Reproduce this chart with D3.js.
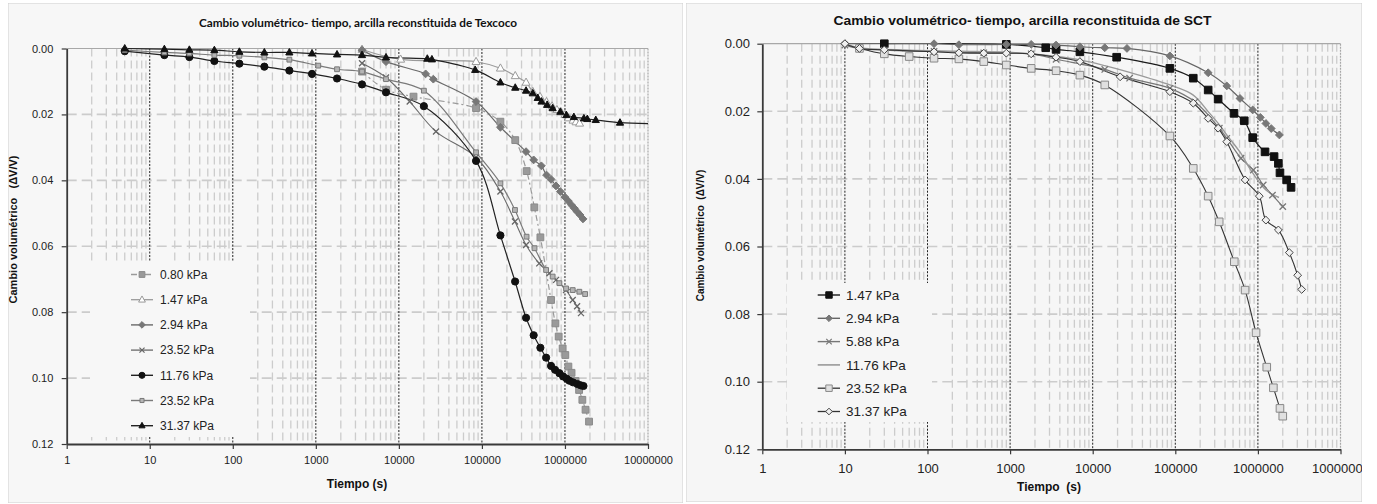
<!DOCTYPE html>
<html><head><meta charset="utf-8">
<script src="https://cdn.jsdelivr.net/npm/d3@7/dist/d3.min.js"></script>
<style>html,body{margin:0;padding:0;background:#fff}svg{display:block}</style>
</head><body>
<svg id="c" width="1377" height="504"></svg>
<script>
// ---------------- DATA ----------------
const yTicks = [0, 0.02, 0.04, 0.06, 0.08, 0.10, 0.12];
const decades = [1, 10, 100, 1000, 10000, 100000, 1000000, 10000000];
const texXLabels = ["1","10","100","1000","10000","100000","1000000","10000000"];
const sctXLabels = ["1","10","100","1000","10000","100000","1000000","10000000"];

const texTitle = "Cambio volumétrico- tiempo,  arcilla reconstituida de Texcoco";
const sctTitle = "Cambio volumétrico- tiempo,  arcilla reconstituida de SCT";
const texYTitle = "Cambio volumétrico   (ΔV/V)";
const sctYTitle = "Cambio volumétrico  (ΔV/V)";
const texXTitle = "Tiempo (s)";
const sctXTitle = "Tiempo  (s)";

const texNames = ["0.80 kPa","1.47 kPa","2.94 kPa","23.52 kPa","11.76 kPa","23.52 kPa","31.37 kPa"];
const sctNames = ["1.47 kPa","2.94 kPa","5.88 kPa","11.76 kPa","23.52 kPa","31.37 kPa"];

// Texcoco series: [tiempo (s), ΔV/V]
const tex080 = [[3600,0.0070],[7000,0.0125],[15000,0.0146],[85000,0.0181],[167000,0.0222],[252000,0.0278],[346000,0.0372],[428000,0.0482],[506000,0.0573],[680000,0.0763],[767000,0.0834],[840000,0.0874],[938000,0.0910],[1010000,0.0930],[1100000,0.0965],[1200000,0.0984],[1340000,0.1009],[1480000,0.1036],[1620000,0.1066],[1770000,0.1096],[1950000,0.1132]];
const tex147 = [[3600,0.0003],[10500,0.0033],[85000,0.0040],[167000,0.0060],[252000,0.0083],[340000,0.0103],[410000,0.0131],[500000,0.0146],[600000,0.0162],[700000,0.0175],[800000,0.0186],[900000,0.0193],[1000000,0.0201],[1100000,0.0211],[1250000,0.0218],[1360000,0.0223],[1500000,0.0227]];
const tex294 = [[3600,0.0005],[7000,0.0040],[21000,0.0077],[26000,0.0093],[85000,0.0161],[167000,0.0239],[340000,0.0313],[420000,0.0338],[520000,0.0356],[600000,0.0384],[680000,0.0397],[780000,0.0417],[880000,0.0434],[1000000,0.0451],[1100000,0.0463],[1200000,0.0475],[1300000,0.0485],[1400000,0.0495],[1520000,0.0505],[1650000,0.0517]];
const tex2352x = [[3600,0.0045],[7000,0.0088],[13500,0.0161],[28000,0.0252],[85000,0.0330],[167000,0.0434],[250000,0.0525],[340000,0.0596],[490000,0.0652],[650000,0.0682],[782000,0.0702],[1030000,0.0733],[1240000,0.0763],[1400000,0.0782],[1560000,0.0803]];
const tex1176 = [[5,0.0008],[15,0.0020],[30,0.0026],[60,0.0038],[120,0.0046],[240,0.0055],[480,0.0067],[900,0.0077],[1800,0.0091],[3600,0.0109],[7000,0.0133],[20000,0.0175],[85000,0.0341],[167000,0.0567],[251000,0.0707],[340000,0.0817],[420000,0.0870],[506000,0.0908],[593000,0.0938],[680000,0.0963],[760000,0.0975],[857000,0.0985],[950000,0.0995],[1050000,0.1002],[1130000,0.1008],[1250000,0.1013],[1410000,0.1018],[1550000,0.1022],[1670000,0.1024]];
const tex2352s = [[5,0.0005],[15,0.0012],[30,0.0015],[60,0.0020],[120,0.0022],[240,0.0027],[480,0.0034],[1070,0.0052],[1800,0.0063],[3600,0.0070],[7000,0.0093],[20000,0.0128],[85000,0.0315],[167000,0.0409],[250000,0.0490],[345000,0.0571],[430000,0.0606],[593000,0.0672],[711000,0.0692],[857000,0.0712],[1030000,0.0728],[1240000,0.0733],[1490000,0.0738],[1750000,0.0745]];
const tex3137 = [[5,0.0000],[15,0.0002],[30,0.0004],[60,0.0005],[120,0.0010],[240,0.0012],[480,0.0012],[900,0.0015],[1800,0.0018],[3600,0.0020],[7000,0.0027],[22000,0.0031],[25000,0.0033],[83000,0.0065],[167000,0.0103],[252000,0.0119],[340000,0.0128],[410000,0.0136],[470000,0.0150],[522000,0.0161],[610000,0.0171],[710000,0.0181],[880000,0.0192],[1040000,0.0202],[1280000,0.0208],[1690000,0.0212],[1860000,0.0214],[2350000,0.0217],[4600000,0.0225],[12000000,0.0228]];

// SCT series: [tiempo (s), ΔV/V]
const sct147 = [[30,0.0000],[900,0.0002],[2700,0.0012],[3600,0.0017],[7000,0.0024],[19500,0.0040],[86000,0.0073],[165000,0.0102],[250000,0.0137],[330000,0.0164],[514000,0.0206],[684000,0.0228],[865000,0.0278],[1220000,0.0320],[1570000,0.0334],[1770000,0.0354],[1850000,0.0382],[2230000,0.0403],[2520000,0.0425]];
const sct294 = [[10,0.0000],[120,0.0000],[240,0.0003],[900,0.0002],[1800,0.0002],[3600,0.0004],[7000,0.0009],[14000,0.0012],[26000,0.0014],[86000,0.0036],[250000,0.0086],[420000,0.0125],[607000,0.0162],[865000,0.0196],[1070000,0.0218],[1250000,0.0236],[1450000,0.0251],[1820000,0.0270]];
const sct588 = [[10,0.0004],[15,0.0014],[30,0.0019],[120,0.0023],[480,0.0027],[1800,0.0030],[3600,0.0046],[14000,0.0076],[28000,0.0102],[86000,0.0132],[173000,0.0172],[341000,0.0250],[420000,0.0280],[624000,0.0339],[880000,0.0374],[1160000,0.0418],[1500000,0.0448],[2000000,0.0482]];
const sct1176 = [[10,0.0000],[15,0.0012],[60,0.0019],[240,0.0022],[900,0.0025],[3600,0.0038],[7000,0.0048],[14000,0.0065],[28000,0.0085],[86000,0.0122],[165000,0.0152],[250000,0.0201],[350000,0.0243],[420000,0.0270],[620000,0.0324],[820000,0.0374],[1250000,0.0433],[1800000,0.0455]];
const sct2352 = [[15,0.0014],[30,0.0030],[60,0.0038],[120,0.0043],[240,0.0045],[480,0.0053],[900,0.0063],[1800,0.0073],[3600,0.0080],[7000,0.0093],[14000,0.0122],[86000,0.0273],[165000,0.0369],[250000,0.0451],[340000,0.0527],[518000,0.0645],[700000,0.0729],[950000,0.0855],[1280000,0.0957],[1540000,0.1018],[1850000,0.1079],[2000000,0.1102]];
const sct3137 = [[10,0.0000],[15,0.0014],[30,0.0018],[120,0.0024],[240,0.0027],[480,0.0028],[900,0.0028],[1800,0.0030],[3600,0.0040],[7000,0.0053],[21500,0.0098],[86000,0.0142],[165000,0.0176],[250000,0.0221],[330000,0.0250],[420000,0.0290],[700000,0.0403],[1040000,0.0451],[1250000,0.0522],[1770000,0.0551],[2400000,0.0618],[3030000,0.0685],[3390000,0.0727]];

// ---------------- STYLES ----------------
const texSeries = [
  {name:texNames[0], data:tex080,  line:"#9a9a9a", lw:1.2, dash:"6,3,2,3", m:"square",   ms:3.4, fill:"#9a9a9a", stroke:"#8a8a8a"},
  {name:texNames[1], data:tex147,  line:"#9a9a9a", lw:1.1, dash:null,      m:"triangle", ms:4.0, fill:"#ffffff", stroke:"#9a9a9a"},
  {name:texNames[2], data:tex294,  line:"#6a6a6a", lw:1.2, dash:null,      m:"diamond",  ms:3.0, fill:"#777777", stroke:"#777777"},
  {name:texNames[3], data:tex2352x,line:"#6a6a6a", lw:1.1, dash:null,      m:"x",        ms:3.0, fill:"none",    stroke:"#666666"},
  {name:texNames[4], data:tex1176, line:"#222222", lw:1.2, dash:null,      m:"circle",   ms:3.6, fill:"#111111", stroke:"#111111"},
  {name:texNames[5], data:tex2352s,line:"#7a7a7a", lw:1.2, dash:null,      m:"square",   ms:2.4, fill:"#b5b5b5", stroke:"#7a7a7a"},
  {name:texNames[6], data:tex3137, line:"#222222", lw:1.2, dash:null,      m:"triangle", ms:3.6, fill:"#111111", stroke:"#111111"}
];
const sctSeries = [
  {name:sctNames[0], data:sct147,  line:"#1a1a1a", lw:1.2, dash:null, m:"square",  ms:3.8, fill:"#111111", stroke:"#111111"},
  {name:sctNames[1], data:sct294,  line:"#666666", lw:1.2, dash:null, m:"diamond", ms:3.0, fill:"#777777", stroke:"#777777"},
  {name:sctNames[2], data:sct588,  line:"#777777", lw:1.2, dash:null, m:"x",       ms:3.2, fill:"none",    stroke:"#777777"},
  {name:sctNames[3], data:sct1176, line:"#9a9a9a", lw:1.4, dash:null, m:null,      ms:0,   fill:"none",    stroke:"none"},
  {name:sctNames[4], data:sct2352, line:"#333333", lw:1.1, dash:null, m:"square",  ms:3.8, fill:"#e0e0e0", stroke:"#888888"},
  {name:sctNames[5], data:sct3137, line:"#333333", lw:1.1, dash:null, m:"diamond", ms:3.0, fill:"#f0f0f0", stroke:"#444444"}
];

// ---------------- DRAWING ----------------
const svg = d3.select("#c");
const FONT = "'Liberation Sans', Arial, sans-serif";

function markerPath(type, s) {
  switch (type) {
    case "square":   return `M${-s},${-s}h${2*s}v${2*s}h${-2*s}Z`;
    case "diamond":  return `M0,${-s*1.3}L${s*1.3},0L0,${s*1.3}L${-s*1.3},0Z`;
    case "triangle": return `M0,${-s*1.1}L${s},${s*0.7}L${-s},${s*0.7}Z`;
    case "circle":   return `M${s},0A${s},${s} 0 1,1 ${-s},0A${s},${s} 0 1,1 ${s},0Z`;
    case "x":        return `M${-s},${-s}L${s},${s}M${s},${-s}L${-s},${s}`;
  }
  return "";
}

function isDecade(t) { const l = Math.log10(t); return Math.abs(l - Math.round(l)) < 1e-9; }

function drawChart(c) {
  const root = svg.append("g");
  const clipId = "clip" + c.id;
  root.append("clipPath").attr("id", clipId).append("rect")
    .attr("x", c.panel.x).attr("y", c.panel.y).attr("width", c.panel.w).attr("height", c.panel.h);
  const g = root.append("g").attr("clip-path", `url(#${clipId})`);

  g.append("rect").attr("x", c.panel.x).attr("y", c.panel.y).attr("width", c.panel.w).attr("height", c.panel.h)
    .attr("fill", c.bg).attr("stroke", "#cfcfcf").attr("stroke-width", 1);

  const x = d3.scaleLog().domain([1, 1e7]).range([c.plot.x0, c.plot.x1]);
  const y = d3.scaleLinear().domain([0, 0.12]).range([c.plot.y0, c.plot.y1]);

  // minor vertical grid
  const minor = x.ticks().filter(t => !isDecade(t));
  g.append("g").selectAll("line").data(minor).join("line")
    .attr("x1", d => x(d)).attr("x2", d => x(d)).attr("y1", c.plot.y0).attr("y2", c.plot.y1)
    .attr("stroke", "#cccccc").attr("stroke-width", 1.3).attr("stroke-dasharray", "8,4");
  // horizontal grid
  g.append("g").selectAll("line").data(yTicks.slice(1, -1)).join("line")
    .attr("x1", c.plot.x0).attr("x2", c.plot.x1).attr("y1", d => y(d)).attr("y2", d => y(d))
    .attr("stroke", "#cccccc").attr("stroke-width", 1.6).attr("stroke-dasharray", "10,5");
  // major vertical grid (dotted)
  g.append("g").selectAll("line").data(decades.slice(1, -1)).join("line")
    .attr("x1", d => x(d)).attr("x2", d => x(d)).attr("y1", c.plot.y0).attr("y2", c.plot.y1)
    .attr("stroke", "#222222").attr("stroke-width", 1).attr("stroke-dasharray", "2,1.5");
  // top and right borders
  g.append("line").attr("x1", c.plot.x0).attr("x2", c.plot.x1).attr("y1", c.plot.y0).attr("y2", c.plot.y0)
    .attr("stroke", "#a8a8a8").attr("stroke-width", 1.2);
  g.append("line").attr("x1", c.plot.x1).attr("x2", c.plot.x1).attr("y1", c.plot.y0).attr("y2", c.plot.y1)
    .attr("stroke", "#a8a8a8").attr("stroke-width", 1.2).attr("stroke-dasharray", "2,1");

  // legend box (covers grid)
  g.append("rect").attr("x", c.legend.box[0]).attr("y", c.legend.box[1])
    .attr("width", c.legend.box[2]).attr("height", c.legend.box[3]).attr("fill", c.bg);

  // axes
  const ax = g.append("g").attr("transform", `translate(0,${c.plot.y1})`)
    .call(d3.axisBottom(x).tickValues(decades).tickFormat((d, i) => c.xLabels[i])
      .tickSizeInner(5).tickSizeOuter(0).tickPadding(c.xPad));
  const ay = g.append("g").attr("transform", `translate(${c.plot.x0},0)`)
    .call(d3.axisLeft(y).tickValues(yTicks).tickFormat(d3.format(".2f"))
      .tickSizeInner(5).tickSizeOuter(0).tickPadding(c.yPad));
  [ax, ay].forEach(a => {
    a.select(".domain").attr("stroke", "#3a3a3a").attr("stroke-width", 1.8);
    a.selectAll(".tick line").attr("stroke", "#3a3a3a").attr("stroke-width", 1.2);
    a.selectAll("text").attr("font-family", FONT).attr("font-size", c.tickSize).attr("fill", "#222");
  });

  // series
  const pClip = "pclip" + c.id;
  root.append("clipPath").attr("id", pClip).append("rect")
    .attr("x", c.plot.x0 - 10).attr("y", c.panel.y).attr("width", c.plot.x1 - c.plot.x0 + 10).attr("height", c.panel.h);
  const sg = g.append("g").attr("clip-path", `url(#${pClip})`);
  const line = d3.line().x(d => x(d[0])).y(d => y(d[1])).curve(d3.curveCatmullRom.alpha(0.5));
  c.series.forEach(s => {
    sg.append("path").attr("d", line(s.data)).attr("fill", "none")
      .attr("stroke", s.line).attr("stroke-width", s.lw).attr("stroke-dasharray", s.dash);
  });
  c.series.forEach(s => {
    if (!s.m) return;
    sg.append("g").selectAll("path").data(s.data).join("path")
      .attr("transform", d => `translate(${x(d[0])},${y(d[1])})`)
      .attr("d", markerPath(s.m, s.ms)).attr("fill", s.fill).attr("stroke", s.stroke)
      .attr("stroke-width", s.m === "x" ? 1.3 : 1);
  });

  // legend entries
  const L = c.legend;
  c.series.forEach((s, i) => {
    const yy = L.y0 + i * L.dy;
    g.append("line").attr("x1", L.lx0).attr("x2", L.lx1).attr("y1", yy).attr("y2", yy)
      .attr("stroke", s.line).attr("stroke-width", s.lw + 0.2).attr("stroke-dasharray", s.dash);
    if (s.m) g.append("path").attr("transform", `translate(${L.mx},${yy})`)
      .attr("d", markerPath(s.m, s.ms * 0.85)).attr("fill", s.fill).attr("stroke", s.stroke)
      .attr("stroke-width", s.m === "x" ? 1.2 : 1);
    g.append("text").attr("x", L.tx).attr("y", yy).attr("dy", "0.36em")
      .attr("font-family", FONT).attr("font-size", L.font).attr("fill", "#222").text(s.name);
  });

  // titles
  const t = g.append("text").attr("x", c.title.x).attr("y", c.title.y).attr("text-anchor", "middle")
    .attr("font-family", c.title.family).attr("font-weight", "bold").attr("font-size", c.title.size)
    .attr("fill", "#111").text(c.title.text);
  if (c.title.len) t.attr("textLength", c.title.len).attr("lengthAdjust", "spacingAndGlyphs");
  g.append("text").attr("x", c.xTitle.x).attr("y", c.xTitle.y).attr("text-anchor", "middle")
    .attr("font-family", FONT).attr("font-weight", "bold").attr("font-size", c.xTitle.size)
    .attr("fill", "#111").style("white-space", "pre").text(c.xTitle.text);
  g.append("text").attr("transform", `translate(${c.yTitle.x},${c.yTitle.y}) rotate(-90)`)
    .attr("text-anchor", "middle").attr("font-family", FONT).attr("font-weight", "bold")
    .attr("font-size", c.yTitle.size).attr("fill", "#111").style("white-space", "pre").text(c.yTitle.text);
}

drawChart({
  id: "tex", bg: "#f7f7f7",
  panel: {x: 8, y: 3, w: 675, h: 500},
  plot: {x0: 66.7, x1: 648, y0: 48.5, y1: 444},
  xLabels: texXLabels, xPad: 7, yPad: 8.4, tickSize: 11,
  series: texSeries,
  legend: {box: [90, 261, 160, 176], lx0: 131, lx1: 153, mx: 142, tx: 160, y0: 274.5, dy: 25.2, font: 12},
  title: {text: texTitle, x: 358, y: 27, size: 11, family: "Lato, 'Open Sans', sans-serif", len: 318},
  xTitle: {text: texXTitle, x: 357, y: 488, size: 12},
  yTitle: {text: texYTitle, x: 17, y: 229.5, size: 11}
});

drawChart({
  id: "sct", bg: "#f6f6f6",
  panel: {x: 686, y: 3, w: 676, h: 499},
  plot: {x0: 762.3, x1: 1340.5, y0: 43.7, y1: 449.3},
  xLabels: sctXLabels, xPad: 9, yPad: 7.3, tickSize: 13,
  series: sctSeries,
  legend: {box: [787, 283, 145, 139], lx0: 817.7, lx1: 840, mx: 829, tx: 846, y0: 295, dy: 23.3, font: 13.5},
  title: {text: sctTitle, x: 1022.5, y: 24.5, size: 12, family: FONT, len: 378},
  xTitle: {text: sctXTitle, x: 1049, y: 491, size: 12},
  yTitle: {text: sctYTitle, x: 704, y: 235.5, size: 10}
});
</script>
</body></html>
